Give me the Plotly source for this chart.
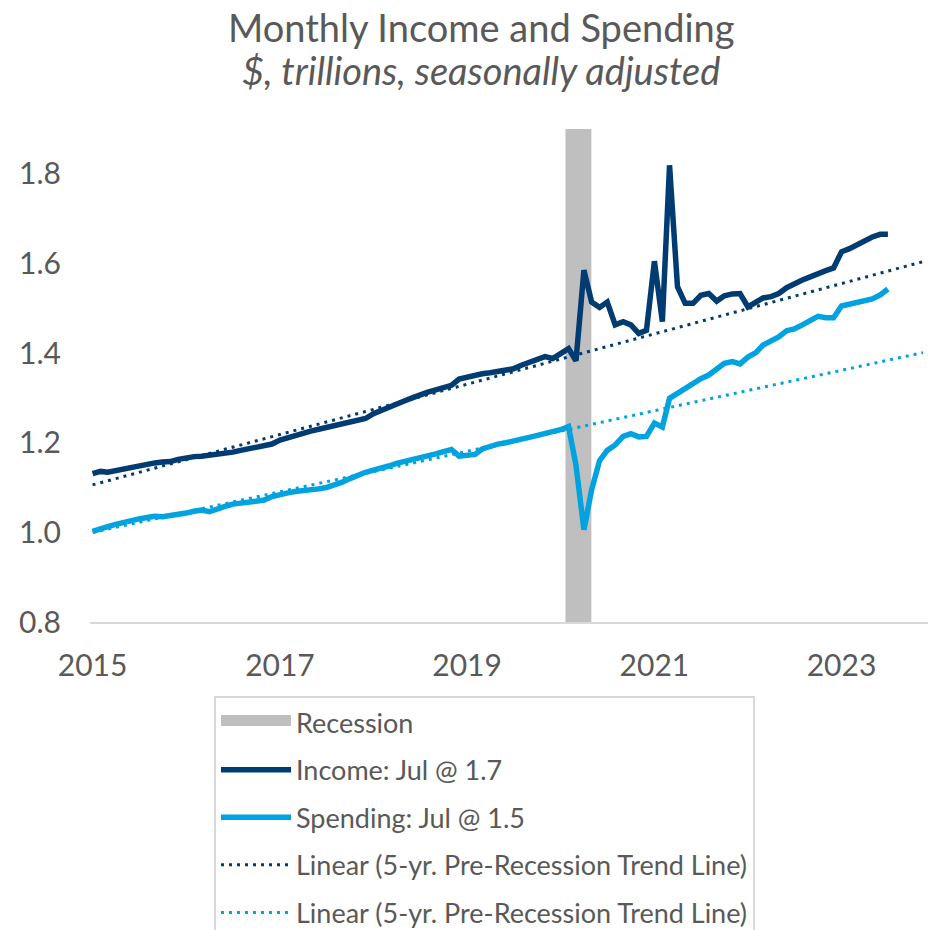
import pandas as pd
import plotly.graph_objects as go

# ---------------- data ----------------
months = pd.date_range("2015-01-01", periods=103, freq="MS").strftime("%Y-%m-%d").tolist()

income = [
    1.131, 1.136, 1.134, 1.138, 1.142, 1.146, 1.149, 1.152, 1.155, 1.157, 1.158, 1.163,   # 2015
    1.167, 1.169, 1.170, 1.172, 1.174, 1.177, 1.179, 1.183, 1.186, 1.189, 1.192, 1.197,   # 2016
    1.206, 1.212, 1.217, 1.221, 1.226, 1.230, 1.234, 1.238, 1.243, 1.247, 1.251, 1.254,   # 2017
    1.265, 1.273, 1.280, 1.286, 1.293, 1.300, 1.308, 1.313, 1.318, 1.323, 1.328, 1.342,   # 2018
    1.347, 1.351, 1.354, 1.356, 1.358, 1.360, 1.365, 1.373, 1.379, 1.385, 1.392, 1.388,   # 2019
    1.400, 1.410, 1.383, 1.585, 1.514, 1.502, 1.514, 1.463, 1.470, 1.463, 1.444, 1.451,   # 2020
    1.605, 1.470, 1.819, 1.548, 1.511, 1.511, 1.529, 1.533, 1.516, 1.528, 1.532, 1.533,   # 2021
    1.503, 1.514, 1.523, 1.526, 1.533, 1.546, 1.556, 1.563, 1.570, 1.578, 1.584, 1.590,   # 2022
    1.626, 1.633, 1.642, 1.652, 1.659, 1.665, 1.665,                                      # 2023
]

spending = [
    1.002, 1.009, 1.013, 1.018, 1.023, 1.027, 1.030, 1.033, 1.036, 1.035, 1.037, 1.041,   # 2015
    1.043, 1.047, 1.050, 1.046, 1.053, 1.058, 1.063, 1.066, 1.068, 1.070, 1.072, 1.080,   # 2016
    1.085, 1.088, 1.091, 1.092, 1.094, 1.097, 1.100, 1.105, 1.112, 1.120, 1.128, 1.134,   # 2017
    1.139, 1.143, 1.148, 1.154, 1.158, 1.163, 1.166, 1.168, 1.175, 1.180, 1.185, 1.170,   # 2018
    1.172, 1.174, 1.186, 1.192, 1.197, 1.200, 1.205, 1.208, 1.212, 1.216, 1.220, 1.224,   # 2019
    1.229, 1.236, 1.150, 1.006, 1.095, 1.160, 1.183, 1.195, 1.214, 1.220, 1.213, 1.214,   # 2020
    1.244, 1.235, 1.299, 1.310, 1.322, 1.333, 1.343, 1.351, 1.364, 1.377, 1.381, 1.376,   # 2021
    1.391, 1.401, 1.418, 1.426, 1.436, 1.450, 1.454, 1.463, 1.473, 1.482, 1.479, 1.479,   # 2022
    1.505, 1.509, 1.511, 1.517, 1.521, 1.530, 1.543,                                      # 2023
]

# Pre-recession linear trend lines (endpoints)
trend_dates = ["2015-01-01", "2023-11-15"]
income_trend = [1.106, 1.604]
spending_trend = [1.000, 1.401]

# Recession period
recession = ["2020-01-20", "2020-04-30"]

x_tick_vals = ["2015-01-01", "2017-01-01", "2019-01-01", "2021-01-01", "2023-01-01"]
x_tick_labels = ["2015", "2017", "2019", "2021", "2023"]
y_tick_vals = [0.8, 1.0, 1.2, 1.4, 1.6, 1.8]
y_tick_labels = ["0.8", "1.0", "1.2", "1.4", "1.6", "1.8"]

title_text = "Monthly Income and Spending"
subtitle_text = "$, trillions, seasonally adjusted"

# ---------------- styles ----------------
NAVY = "#003B71"
SKY = "#00A3E0"
GREY_BAR = "#BFBFBF"
TEXT = "#595959"
FONT = "Lato"

# the page adds an 8px body margin, so the figure is 8px smaller
W, H = 928, 922
ML, MR, MT, MB = 82, 4, 121, 308
PW, PH = W - ML - MR, H - MT - MB

fig = go.Figure()

# recession band (drawn on the data axes)
fig.add_shape(type="rect", xref="x", yref="y",
              x0=recession[0], x1=recession[1], y0=0.8, y1=1.9,
              fillcolor=GREY_BAR, line=dict(width=0), layer="below")

# legend entry for recession (filled swatch + thick line -> taller block)
fig.add_trace(go.Scatter(x=[None], y=[None], mode="lines", name="Recession",
                         fill="toself", fillcolor=GREY_BAR,
                         line=dict(color=GREY_BAR, width=16), legendgroup="a"))

fig.add_trace(go.Scatter(x=months, y=income, mode="lines", name="Income: Jul @ 1.7",
                         line=dict(color=NAVY, width=5.5), legendgroup="b"))
fig.add_trace(go.Scatter(x=months, y=spending, mode="lines", name="Spending: Jul @ 1.5",
                         line=dict(color=SKY, width=5.5), legendgroup="c"))
fig.add_trace(go.Scatter(x=trend_dates, y=income_trend, mode="lines",
                         name="Linear (5-yr. Pre-Recession Trend Line)",
                         line=dict(color=NAVY, width=3, dash="3px,5px"), legendgroup="d"))
fig.add_trace(go.Scatter(x=trend_dates, y=spending_trend, mode="lines",
                         name="Linear (5-yr. Pre-Recession Trend Line)",
                         line=dict(color=SKY, width=3, dash="3px,5px"), legendgroup="e"))

# title lines as annotations
tx = (473 - ML) / PW
fig.add_annotation(text=title_text, xref="paper", yref="paper",
                   x=tx, y=(H - MB - 19) / PH, xanchor="center", yanchor="middle",
                   showarrow=False, borderpad=0,
                   font=dict(family=FONT, size=38, color=TEXT))
fig.add_annotation(text="<i>" + subtitle_text + "</i>", xref="paper", yref="paper",
                   x=tx, y=(H - MB - 62) / PH, xanchor="center", yanchor="middle",
                   showarrow=False, borderpad=0,
                   font=dict(family=FONT, size=38, color=TEXT))

fig.update_layout(
    width=W, height=H,
    paper_bgcolor="white", plot_bgcolor="white",
    margin=dict(l=ML, r=MR, t=MT, b=MB, autoexpand=False),
    font=dict(family=FONT, color=TEXT, size=30),
    xaxis=dict(
        type="date",
        range=["2014-12-22", "2023-12-20"],
        tickvals=x_tick_vals, ticktext=x_tick_labels,
        showgrid=False, zeroline=False,
        showline=True, linecolor="#D9D9D9", linewidth=2,
        ticks="", ticklabelstandoff=16,
        tickfont=dict(family=FONT, size=30, color=TEXT),
    ),
    yaxis=dict(
        range=[0.8, 1.9],
        tickvals=y_tick_vals, ticktext=y_tick_labels,
        showgrid=False, zeroline=False, showline=False,
        ticks="", ticklabelstandoff=28,
        tickfont=dict(family=FONT, size=30, color=TEXT),
    ),
    showlegend=True,
    legend=dict(
        xref="container", yref="container",
        x=206 / W, y=1 - 688 / H, xanchor="left", yanchor="top",
        bgcolor="white", bordercolor="#D9D9D9", borderwidth=2,
        font=dict(family=FONT, size=27, color=TEXT),
        itemwidth=70, tracegroupgap=9.5, traceorder="grouped",
        maxheight=600,
    ),
)

fig.write_html("out.html")
